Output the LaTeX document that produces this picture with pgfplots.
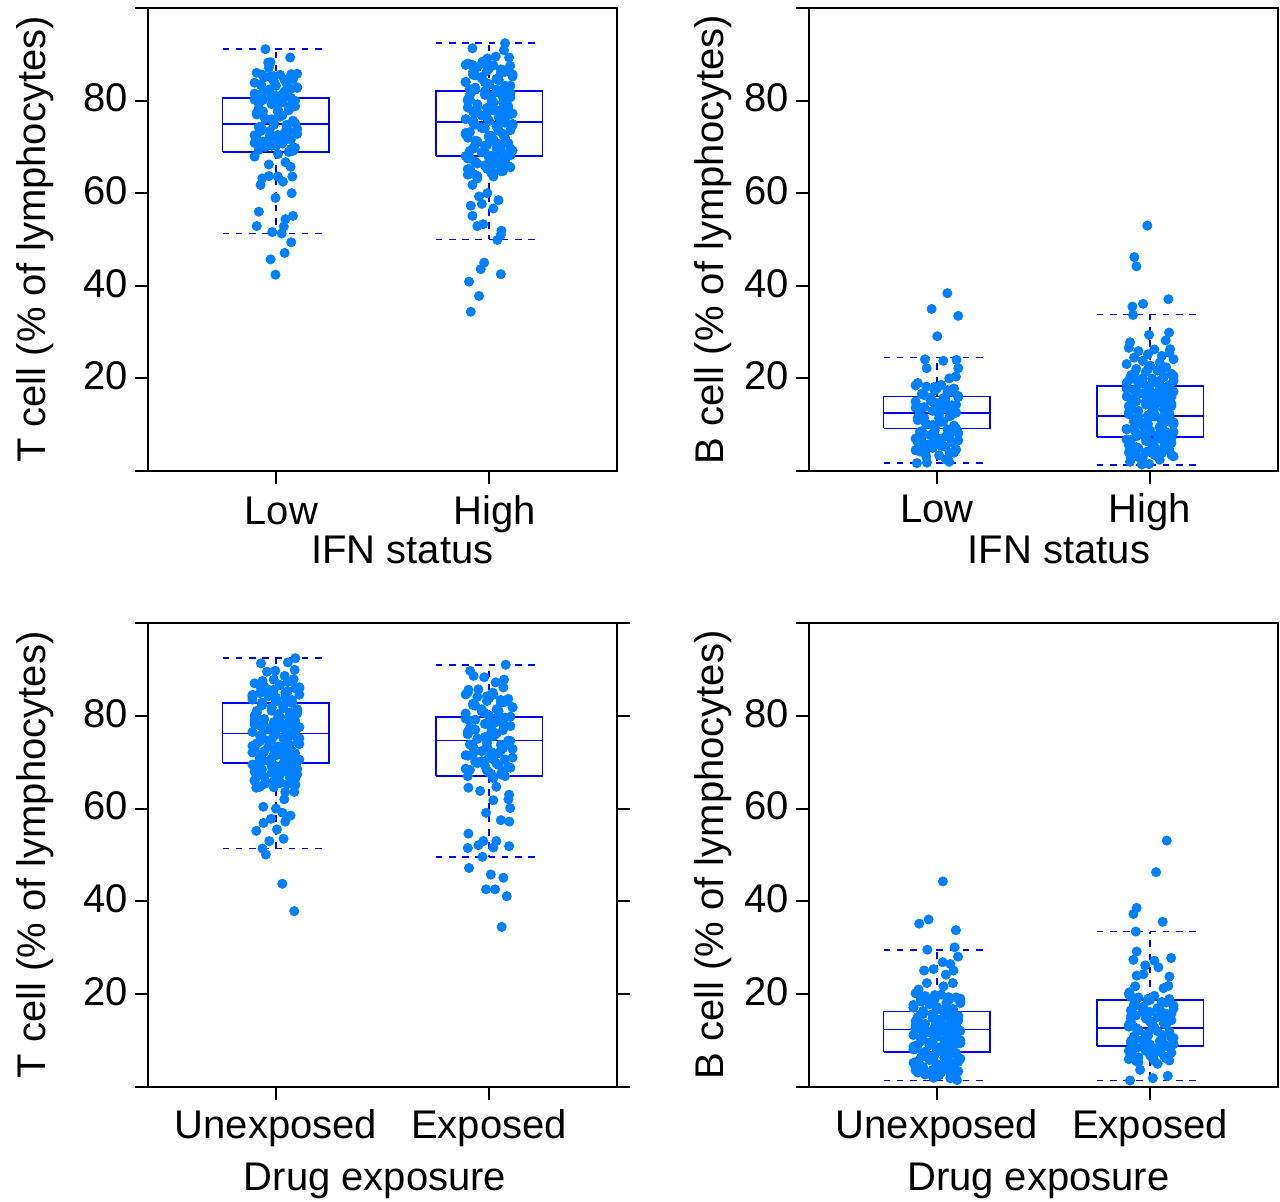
\documentclass[border=0pt]{standalone}
\usepackage{fontspec}
\setmainfont{Liberation Sans}
\usepackage{pgfplots}
\pgfplotsset{compat=1.18}
\definecolor{dotcol}{RGB}{0,128,255}
\definecolor{boxcol}{RGB}{0,0,255}
\pgfplotsset{
  panel/.style={
    scale only axis, width=234.5bp, height=231.5bp,
    xmin=0.4, xmax=2.6, ymin=0, ymax=100,
    xtick={1,2}, ytick={0,20,40,60,80,100},
    yticklabels={{},20,40,60,80,{}},
    tick align=outside, xtick pos=left, ytick pos=left,
    major tick length=6.7bp,
    axis line style={line width=0.95bp, black},
    tick style={line width=0.95bp, black},
    tick label style={font=\fontsize{20bp}{24bp}\selectfont},
    label style={font=\fontsize{20bp}{24bp}\selectfont},
    xticklabel style={anchor=base, yshift=-19bp, inner sep=0pt},
    yticklabel style={anchor=base east, inner sep=0pt, xshift=-3.2bp, yshift=-5.7bp},
    clip=false,
  },
  dots/.style={only marks, mark=*, mark size=2.3bp, color=dotcol, mark options={draw=none, fill=dotcol}},
  boxl/.style={color=boxcol, line width=0.85bp, no marks},
  whisk/.style={color=boxcol, line width=0.85bp, no marks, dash pattern=on 3.3bp off 3.3bp},
}
% #1 left, #2 centre, #3 right, #4 lower cap, #5 Q1, #6 median, #7 Q3, #8 upper cap, #9 cap right end
\newcommand{\bx}[9]{%
 \addplot[boxl] coordinates {(#1,#5) (#3,#5) (#3,#7) (#1,#7) (#1,#5)};
 \addplot[boxl] coordinates {(#1,#6) (#3,#6)};
 \addplot[whisk] coordinates {(#2,#7) (#2,#8)};
 \addplot[whisk] coordinates {(#2,#5) (#2,#4)};
 \addplot[whisk] coordinates {(#1,#8) (#9,#8)};
 \addplot[whisk] coordinates {(#1,#4) (#9,#4)};
}
\begin{document}
\begin{tikzpicture}
\path[use as bounding box] (0,0) rectangle (640bp,601bp);

% ---------------- top left ----------------
\begin{axis}[panel, at={(74bp,365.5bp)}, anchor=south west,
  xticklabels={Low,High}, xticklabel style={xshift=2.7bp, yshift=-1.2bp},
  xlabel={IFN status}, xlabel style={at={(axis description cs:0.5426,-0.199)}, anchor=base},
  ylabel={T cell (\% of lymphocytes)}, ylabel style={at={(axis description cs:-0.2196,0.5)}, anchor=base}]
\addplot[dots] coordinates {
(0.91,86.0)(1.02,85.55)(0.95,85.1)(1.08,84.65)(0.99,84.2)(1.05,83.75)(0.93,83.3)(1.10,82.85)(0.97,82.4)(1.04,81.95)
(0.90,81.5)(1.00,81.05)(1.07,80.6)(0.94,80.15)(1.03,79.7)(0.98,79.25)(1.09,78.8)(0.92,78.35)(1.06,77.9)(1.01,77.45)
(0.91,77.0)(1.02,76.55)(0.95,76.1)(1.08,75.65)(0.99,75.2)(1.05,74.75)(0.93,74.3)(1.10,73.85)(0.97,73.4)(1.04,72.95)
(0.90,72.5)(1.00,72.05)(1.07,71.6)(0.94,71.15)(1.03,70.7)(0.98,70.25)(1.09,69.8)(0.92,69.35)(1.06,68.9)(1.01,68.45)
(1.10,85.8)(0.97,85.15)(1.04,84.5)(0.90,83.85)(1.00,83.2)(1.07,82.55)(0.94,81.9)(1.03,81.25)(0.98,80.6)(1.09,79.95)
(0.92,79.3)(1.06,78.65)(1.01,78.0)(0.91,77.35)(1.02,76.7)(0.95,76.05)(1.08,75.4)(0.99,74.75)(1.05,74.1)(0.93,73.45)
(1.10,72.8)(0.97,72.15)(1.04,71.5)(0.90,70.85)(1.00,70.2)(1.07,69.55)
(0.99,85.3)(1.05,84.45)(0.93,83.6)(1.10,82.75)(0.97,81.9)(1.04,81.05)(0.90,80.2)(1.00,79.35)(1.07,78.5)(0.94,77.65)
(1.03,76.8)(0.98,75.95)(1.09,75.1)(0.92,74.25)(1.06,73.4)(1.01,72.55)(0.91,71.7)(1.02,70.85)(0.95,70.0)(1.08,69.15)
(0.951,91.1)(1.067,89.3)(0.964,88.2)(0.975,88.3)(0.967,87.1)(0.936,85.6)(1.072,85.7)(0.933,81.4)(0.90,67.9)(0.967,66.2)
(1.045,66.7)(1.069,65.7)(0.936,63.2)(0.967,63.7)(0.928,61.8)(1.009,63.6)(1.033,62.5)(1.077,63.6)(0.998,59.0)(1.074,60.0)
(0.92,56.0)(1.08,55.1)(1.045,54.4)(0.91,52.9)(1.037,52.8)(0.983,51.6)(1.027,51.3)(1.072,49.4)(0.975,45.7)(1.041,47.1)
(0.998,42.4)
};
\addplot[dots] coordinates {
(1.90,88.0)(2.02,87.6)(1.945,87.2)(2.09,86.8)(1.99,86.4)(2.055,86.0)(1.925,85.6)(2.11,85.2)(1.965,84.8)(2.045,84.4)
(1.89,84.0)(2.00,83.6)(2.075,83.2)(1.935,82.8)(2.035,82.4)(1.98,82.0)(2.10,81.6)(1.91,81.2)(2.065,80.8)(2.01,80.4)
(1.90,80.0)(2.02,79.6)(1.945,79.2)(2.09,78.8)(1.99,78.4)(2.055,78.0)(1.925,77.6)(2.11,77.2)(1.965,76.8)(2.045,76.4)
(1.89,76.0)(2.00,75.6)(2.075,75.2)(1.935,74.8)(2.035,74.4)(1.98,74.0)(2.10,73.6)(1.91,73.2)(2.065,72.8)(2.01,72.4)
(1.90,72.0)(2.02,71.6)(1.945,71.2)(2.09,70.8)(1.99,70.4)(2.055,70.0)(1.925,69.6)(2.11,69.2)(1.965,68.8)(2.045,68.4)
(1.89,68.0)(2.00,67.6)(2.075,67.2)(1.935,66.8)(2.035,66.4)(1.98,66.0)(2.10,65.6)(1.91,65.2)(2.065,64.8)(2.01,64.4)
(1.90,64.0)(2.02,63.6)(1.945,63.2)
(1.89,87.7)(2.00,86.95)(2.075,86.2)(1.935,85.45)(2.035,84.7)(1.98,83.95)(2.10,83.2)(1.91,82.45)(2.065,81.7)(2.01,80.95)
(1.90,80.2)(2.02,79.45)(1.945,78.7)(2.09,77.95)(1.99,77.2)(2.055,76.45)(1.925,75.7)(2.11,74.95)(1.965,74.2)(2.045,73.45)
(1.89,72.7)(2.00,71.95)(2.075,71.2)(1.935,70.45)(2.035,69.7)(1.98,68.95)(2.10,68.2)(1.91,67.45)(2.065,66.7)(2.01,65.95)
(1.90,65.2)(2.02,64.45)(1.945,63.7)
(1.99,87.3)(2.055,86.75)(1.925,86.2)(2.11,85.65)(1.965,85.1)(2.045,84.55)(1.89,84.0)(2.00,83.45)(2.075,82.9)(1.935,82.35)
(2.035,81.8)(1.98,81.25)(2.10,80.7)(1.91,80.15)(2.065,79.6)(2.01,79.05)(1.90,78.5)(2.02,77.95)(1.945,77.4)(2.09,76.85)
(1.99,76.3)(2.055,75.75)(1.925,75.2)(2.11,74.65)(1.965,74.1)(2.045,73.55)(1.89,73.0)(2.00,72.45)(2.075,71.9)(1.935,71.35)
(2.035,70.8)(1.98,70.25)(2.10,69.7)(1.91,69.15)(2.065,68.6)(2.01,68.05)(1.90,67.5)(2.02,66.95)(1.945,66.4)(2.09,65.85)
(1.99,65.3)(2.055,64.75)(1.925,64.2)
(2.075,92.4)(1.922,91.3)(2.070,90.9)(2.094,89.3)(2.099,87.5)(1.922,87.7)(1.969,88.4)(1.992,89.1)(2.031,89.5)(1.922,61.8)
(1.992,60.0)(1.953,59.3)(2.044,58.5)(1.914,57.3)(1.966,57.7)(2.020,56.7)(1.922,55.1)(1.945,52.9)(1.972,53.3)(2.058,51.9)
(2.055,51.0)(2.039,49.9)(1.977,45.0)(1.961,43.6)(2.055,42.5)(1.906,40.9)(1.953,37.8)(1.914,34.4)
};
\bx{0.75}{1}{1.25}{51.3}{68.9}{75.0}{80.6}{91.1}{1.23}
\bx{1.75}{2}{2.25}{50.0}{68.0}{75.4}{82.1}{92.4}{2.23}
\end{axis}

% ---------------- top right ----------------
\begin{axis}[panel, at={(404.5bp,365.5bp)}, anchor=south west,
  xticklabels={Low,High},
  xlabel={IFN status}, xlabel style={at={(axis description cs:0.533,-0.2)}, anchor=base},
  ylabel={B cell (\% of lymphocytes)}, ylabel style={at={(axis description cs:-0.183,0.5)}, anchor=base}]
\addplot[dots] coordinates {
(0.91,19.0)(1.02,18.6)(0.95,18.2)(1.08,17.8)(0.99,17.4)(1.05,17.0)(0.93,16.6)(1.10,16.2)(0.97,15.8)(1.04,15.4)
(0.90,15.0)(1.00,14.6)(1.07,14.2)(0.94,13.8)(1.03,13.4)(0.98,13.0)(1.09,12.6)(0.92,12.2)(1.06,11.8)(1.01,11.4)
(0.91,11.0)(1.02,10.6)(0.95,10.2)(1.08,9.8)(0.99,9.4)(1.05,9.0)(0.93,8.6)(1.10,8.2)(0.97,7.8)(1.04,7.4)
(0.90,7.0)(1.00,6.6)(1.07,6.2)(0.94,5.8)(1.03,5.4)(0.98,5.0)(1.09,4.6)(0.92,4.2)(1.06,3.8)(1.01,3.4)
(0.90,18.5)(1.00,17.8)(1.07,17.1)(0.94,16.4)(1.03,15.7)(0.98,15.0)(1.09,14.3)(0.92,13.6)(1.06,12.9)(1.01,12.2)
(0.91,11.5)(1.02,10.8)(0.95,10.1)(1.08,9.4)(0.99,8.7)(1.05,8.0)(0.93,7.3)(1.10,6.6)(0.97,5.9)(1.04,5.2)(0.90,4.5)
(0.99,18.2)(1.05,17.45)(0.93,16.7)(1.10,15.95)(0.97,15.2)(1.04,14.45)(0.90,13.7)(1.00,12.95)(1.07,12.2)(0.94,11.45)
(1.03,10.7)(0.98,9.95)(1.09,9.2)(0.92,8.45)(1.06,7.7)(1.01,6.95)(0.91,6.2)(1.02,5.45)(0.95,4.7)(1.08,3.95)
(1.049,38.4)(0.975,35.0)(1.100,33.5)(1.002,29.1)(0.944,24.1)(1.030,23.8)(1.092,24.0)(0.952,22.2)(1.100,22.2)(1.058,20.0)
(1.089,20.4)(0.906,1.7)(0.953,1.8)(1.058,2.0)(1.042,2.5)(0.950,3.1)(1.069,4.0)
};
\addplot[dots] coordinates {
(1.90,26.6)(2.02,26.25)(1.945,25.9)(2.09,25.55)(1.99,25.2)(2.055,24.85)(1.925,24.5)(2.11,24.15)(1.965,23.8)(2.045,23.45)
(1.89,23.1)(2.00,22.75)(2.075,22.4)(1.935,22.05)(2.035,21.7)(1.98,21.35)(2.10,21.0)(1.91,20.65)(2.065,20.3)(2.01,19.95)
(1.90,19.6)(2.02,19.25)(1.945,18.9)(2.09,18.55)(1.99,18.2)(2.055,17.85)(1.925,17.5)(2.11,17.15)(1.965,16.8)(2.045,16.45)
(1.89,16.1)(2.00,15.75)(2.075,15.4)(1.935,15.05)(2.035,14.7)(1.98,14.35)(2.10,14.0)(1.91,13.65)(2.065,13.3)(2.01,12.95)
(1.90,12.6)(2.02,12.25)(1.945,11.9)(2.09,11.55)(1.99,11.2)(2.055,10.85)(1.925,10.5)(2.11,10.15)(1.965,9.8)(2.045,9.45)
(1.89,9.1)(2.00,8.75)(2.075,8.4)(1.935,8.05)(2.035,7.7)(1.98,7.35)(2.10,7.0)(1.91,6.65)(2.065,6.3)(2.01,5.95)
(1.90,5.6)(2.02,5.25)(1.945,4.9)(2.09,4.55)(1.99,4.2)(2.055,3.85)(1.925,3.5)(2.11,3.15)(1.965,2.8)(2.045,2.45)
(1.925,20.0)(2.11,19.45)(1.965,18.9)(2.045,18.35)(1.89,17.8)(2.00,17.25)(2.075,16.7)(1.935,16.15)(2.035,15.6)(1.98,15.05)
(2.10,14.5)(1.91,13.95)(2.065,13.4)(2.01,12.85)(1.90,12.3)(2.02,11.75)(1.945,11.2)(2.09,10.65)(1.99,10.1)(2.055,9.55)
(1.925,9.0)(2.11,8.45)(1.965,7.9)(2.045,7.35)(1.89,6.8)(2.00,6.25)(2.075,5.7)(1.935,5.15)(2.035,4.6)(1.98,4.05)
(2.10,3.5)(1.91,2.95)
(1.99,22.0)(2.055,21.5)(1.925,21.0)(2.11,20.5)(1.965,20.0)(2.045,19.5)(1.89,19.0)(2.00,18.5)(2.075,18.0)(1.935,17.5)
(2.035,17.0)(1.98,16.5)(2.10,16.0)(1.91,15.5)(2.065,15.0)(2.01,14.5)(1.90,14.0)(2.02,13.5)(1.945,13.0)(2.09,12.5)
(1.99,12.0)(2.055,11.5)(1.925,11.0)(2.11,10.5)(1.965,10.0)(2.045,9.5)(1.89,9.0)(2.00,8.5)(2.075,8.0)(1.935,7.5)
(2.035,7.0)(1.98,6.5)(2.10,6.0)(1.91,5.5)(2.065,5.0)(2.01,4.5)(1.90,4.0)(2.02,3.5)(1.945,3.0)
(1.987,53.0)(1.926,46.2)(1.936,44.2)(1.917,35.5)(1.967,36.1)(2.086,37.1)(1.920,33.7)(1.995,29.4)(2.089,29.9)(1.906,27.8)
(2.073,28.2)(2.094,26.3)(1.906,2.0)(1.961,1.4)(1.995,1.5)
};
\bx{0.75}{1}{1.25}{1.7}{9.2}{12.5}{16.1}{24.5}{1.23}
\bx{1.75}{2}{2.25}{1.3}{7.3}{11.9}{18.3}{33.8}{2.23}
\end{axis}

% ---------------- bottom left ----------------
\begin{axis}[panel, height=232bp, at={(74bp,57.5bp)}, anchor=south west, ytick pos=both,
  xticklabels={Unexposed,Exposed},
  xlabel={Drug exposure}, xlabel style={at={(axis description cs:0.484,-0.222)}, anchor=base},
  ylabel={T cell (\% of lymphocytes)}, ylabel style={at={(axis description cs:-0.2196,0.5)}, anchor=base}]
\addplot[dots] coordinates {
(0.90,87.0)(1.02,86.65)(0.945,86.3)(1.09,85.95)(0.99,85.6)(1.055,85.25)(0.925,84.9)(1.11,84.55)(0.965,84.2)(1.045,83.85)
(0.89,83.5)(1.00,83.15)(1.075,82.8)(0.935,82.45)(1.035,82.1)(0.98,81.75)(1.10,81.4)(0.91,81.05)(1.065,80.7)(1.01,80.35)
(0.90,80.0)(1.02,79.65)(0.945,79.3)(1.09,78.95)(0.99,78.6)(1.055,78.25)(0.925,77.9)(1.11,77.55)(0.965,77.2)(1.045,76.85)
(0.89,76.5)(1.00,76.15)(1.075,75.8)(0.935,75.45)(1.035,75.1)(0.98,74.75)(1.10,74.4)(0.91,74.05)(1.065,73.7)(1.01,73.35)
(0.90,73.0)(1.02,72.65)(0.945,72.3)(1.09,71.95)(0.99,71.6)(1.055,71.25)(0.925,70.9)(1.11,70.55)(0.965,70.2)(1.045,69.85)
(0.89,69.5)(1.00,69.15)(1.075,68.8)(0.935,68.45)(1.035,68.1)(0.98,67.75)(1.10,67.4)(0.91,67.05)(1.065,66.7)(1.01,66.35)
(0.90,66.0)(1.02,65.65)(0.945,65.3)(1.09,64.95)(0.99,64.6)
(0.925,86.5)(1.11,85.9)(0.965,85.3)(1.045,84.7)(0.89,84.1)(1.00,83.5)(1.075,82.9)(0.935,82.3)(1.035,81.7)(0.98,81.1)
(1.10,80.5)(0.91,79.9)(1.065,79.3)(1.01,78.7)(0.90,78.1)(1.02,77.5)(0.945,76.9)(1.09,76.3)(0.99,75.7)(1.055,75.1)
(0.925,74.5)(1.11,73.9)(0.965,73.3)(1.045,72.7)(0.89,72.1)(1.00,71.5)(1.075,70.9)(0.935,70.3)(1.035,69.7)(0.98,69.1)
(1.10,68.5)(0.91,67.9)(1.065,67.3)(1.01,66.7)(0.90,66.1)(1.02,65.5)
(0.99,87.8)(1.055,87.25)(0.925,86.7)(1.11,86.15)(0.965,85.6)(1.045,85.05)(0.89,84.5)(1.00,83.95)(1.075,83.4)(0.935,82.85)
(1.035,82.3)(0.98,81.75)(1.10,81.2)(0.91,80.65)(1.065,80.1)(1.01,79.55)(0.90,79.0)(1.02,78.45)(0.945,77.9)(1.09,77.35)
(0.99,76.8)(1.055,76.25)(0.925,75.7)(1.11,75.15)(0.965,74.6)(1.045,74.05)(0.89,73.5)(1.00,72.95)(1.075,72.4)(0.935,71.85)
(1.035,71.3)(0.98,70.75)(1.10,70.2)(0.91,69.65)(1.065,69.1)(1.01,68.55)(0.90,68.0)(1.02,67.45)(0.945,66.9)(1.09,66.35)
(0.99,65.8)(1.055,65.25)(0.925,64.7)
(1.091,92.4)(0.930,91.3)(1.056,91.5)(0.958,89.5)(0.997,89.7)(1.088,89.9)(0.937,87.5)(1.041,88.6)(1.083,87.9)(0.908,64.5)
(0.958,65.6)(1.091,65.2)(1.044,63.6)(1.086,63.6)(1.039,62.0)(0.941,60.4)(1.0,60.0)(1.031,59.1)(1.069,58.5)(0.977,57.8)
(0.942,56.9)(1.044,57.2)(1.005,55.5)(0.908,55.2)(0.969,53.0)(1.036,53.5)(0.937,51.4)(0.953,50.1)(1.030,43.8)(1.086,37.9)
};
\addplot[dots] coordinates {
(1.90,85.0)(2.02,84.55)(1.945,84.1)(2.09,83.65)(1.99,83.2)(2.055,82.75)(1.925,82.3)(2.11,81.85)(1.965,81.4)(2.045,80.95)
(1.89,80.5)(2.00,80.05)(2.075,79.6)(1.935,79.15)(2.035,78.7)(1.98,78.25)(2.10,77.8)(1.91,77.35)(2.065,76.9)(2.01,76.45)
(1.90,76.0)(2.02,75.55)(1.945,75.1)(2.09,74.65)(1.99,74.2)(2.055,73.75)(1.925,73.3)(2.11,72.85)(1.965,72.4)(2.045,71.95)
(1.89,71.5)(2.00,71.05)(2.075,70.6)(1.935,70.15)(2.035,69.7)(1.98,69.25)(2.10,68.8)(1.91,68.35)(2.065,67.9)(2.01,67.45)
(1.90,67.0)(2.02,66.55)
(1.89,84.6)(2.00,83.8)(2.075,83.0)(1.935,82.2)(2.035,81.4)(1.98,80.6)(2.10,79.8)(1.91,79.0)(2.065,78.2)(2.01,77.4)
(1.90,76.6)(2.02,75.8)(1.945,75.0)(2.09,74.2)(1.99,73.4)(2.055,72.6)(1.925,71.8)(2.11,71.0)(1.965,70.2)(2.045,69.4)
(1.89,68.6)(2.00,67.8)(2.075,67.0)
(1.99,84.2)(2.055,83.4)(1.925,82.6)(2.11,81.8)(1.965,81.0)(2.045,80.2)(1.89,79.4)(2.00,78.6)(2.075,77.8)(1.935,77.0)
(2.035,76.2)(1.98,75.4)(2.10,74.6)(1.91,73.8)(2.065,73.0)(2.01,72.2)(1.90,71.4)(2.02,70.6)(1.945,69.8)(2.09,69.0)
(1.99,68.2)(2.055,67.4)
(2.078,91.0)(1.911,89.7)(1.927,88.6)(1.977,88.3)(2.031,87.2)(2.070,87.8)(1.903,85.6)(1.950,85.7)(2.017,85.0)(2.067,86.1)
(1.903,64.5)(1.958,63.8)(2.034,64.7)(2.094,63.0)(2.020,61.8)(2.091,62.0)(2.099,60.1)(1.986,59.1)(2.055,57.5)(2.095,57.2)
(1.903,54.6)(1.900,51.5)(1.950,52.1)(1.973,53.0)(2.034,53.0)(2.020,51.6)(2.094,51.9)(1.969,49.6)(1.906,47.2)(2.008,45.8)
(2.067,45.1)(1.986,42.6)(2.028,42.6)(2.083,41.1)(2.059,34.5)
};
\bx{0.75}{1}{1.25}{51.4}{69.9}{76.2}{82.7}{92.4}{1.23}
\bx{1.75}{2}{2.25}{49.5}{67.0}{74.7}{79.8}{91.0}{2.23}
\end{axis}

% ---------------- bottom right ----------------
\begin{axis}[panel, height=232bp, at={(404.5bp,57.5bp)}, anchor=south west,
  xticklabels={Unexposed,Exposed},
  xlabel={Drug exposure}, xlabel style={at={(axis description cs:0.489,-0.222)}, anchor=base},
  ylabel={B cell (\% of lymphocytes)}, ylabel style={at={(axis description cs:-0.183,0.5)}, anchor=base}]
\addplot[dots] coordinates {
(0.90,20.2)(1.02,19.9)(0.945,19.6)(1.09,19.3)(0.99,19.0)(1.055,18.7)(0.925,18.4)(1.11,18.1)(0.965,17.8)(1.045,17.5)
(0.89,17.2)(1.00,16.9)(1.075,16.6)(0.935,16.3)(1.035,16.0)(0.98,15.7)(1.10,15.4)(0.91,15.1)(1.065,14.8)(1.01,14.5)
(0.90,14.2)(1.02,13.9)(0.945,13.6)(1.09,13.3)(0.99,13.0)(1.055,12.7)(0.925,12.4)(1.11,12.1)(0.965,11.8)(1.045,11.5)
(0.89,11.2)(1.00,10.9)(1.075,10.6)(0.935,10.3)(1.035,10.0)(0.98,9.7)(1.10,9.4)(0.91,9.1)(1.065,8.8)(1.01,8.5)
(0.90,8.2)(1.02,7.9)(0.945,7.6)(1.09,7.3)(0.99,7.0)(1.055,6.7)(0.925,6.4)(1.11,6.1)(0.965,5.8)(1.045,5.5)
(0.89,5.2)(1.00,4.9)(1.075,4.6)(0.935,4.3)(1.035,4.0)(0.98,3.7)(1.10,3.4)(0.91,3.1)(1.065,2.8)(1.01,2.5)
(0.925,19.5)(1.11,19.05)(0.965,18.6)(1.045,18.15)(0.89,17.7)(1.00,17.25)(1.075,16.8)(0.935,16.35)(1.035,15.9)(0.98,15.45)
(1.10,15.0)(0.91,14.55)(1.065,14.1)(1.01,13.65)(0.90,13.2)(1.02,12.75)(0.945,12.3)(1.09,11.85)(0.99,11.4)(1.055,10.95)
(0.925,10.5)(1.11,10.05)(0.965,9.6)(1.045,9.15)(0.89,8.7)(1.00,8.25)(1.075,7.8)(0.935,7.35)(1.035,6.9)(0.98,6.45)
(1.10,6.0)(0.91,5.55)(1.065,5.1)(1.01,4.65)(0.90,4.2)(1.02,3.75)(0.945,3.3)(1.09,2.85)
(0.99,19.8)(1.055,19.35)(0.925,18.9)(1.11,18.45)(0.965,18.0)(1.045,17.55)(0.89,17.1)(1.00,16.65)(1.075,16.2)(0.935,15.75)
(1.035,15.3)(0.98,14.85)(1.10,14.4)(0.91,13.95)(1.065,13.5)(1.01,13.05)(0.90,12.6)(1.02,12.15)(0.945,11.7)(1.09,11.25)
(0.99,10.8)(1.055,10.35)(0.925,9.9)(1.11,9.45)(0.965,9.0)(1.045,8.55)(0.89,8.1)(1.00,7.65)(1.075,7.2)(0.935,6.75)
(1.035,6.3)(0.98,5.85)(1.10,5.4)(0.91,4.95)(1.065,4.5)(1.01,4.05)(0.90,3.6)(1.02,3.15)(0.945,2.7)
(1.028,44.3)(0.917,35.2)(0.961,36.1)(1.089,33.8)(0.955,29.6)(1.083,30.1)(1.099,28.1)(1.027,26.9)(1.063,26.5)(1.078,25.1)
(0.940,25.1)(0.984,25.4)(1.042,24.2)(1.075,22.4)(0.953,22.4)(1.031,21.7)(0.914,21.0)(0.984,2.0)(1.063,1.9)(1.094,1.5)
};
\addplot[dots] coordinates {
(1.90,20.0)(2.02,19.65)(1.945,19.3)(2.09,18.95)(1.99,18.6)(2.055,18.25)(1.925,17.9)(2.11,17.55)(1.965,17.2)(2.045,16.85)
(1.91,16.5)(2.00,16.15)(2.075,15.8)(1.935,15.45)(2.035,15.1)(1.98,14.75)(2.10,14.4)(1.91,14.05)(2.065,13.7)(2.01,13.35)
(1.90,13.0)(2.02,12.65)(1.945,12.3)(2.09,11.95)(1.99,11.6)(2.055,11.25)(1.925,10.9)(2.11,10.55)(1.965,10.2)(2.045,9.85)
(1.91,9.5)(2.00,9.15)(2.075,8.8)(1.935,8.45)(2.035,8.1)(1.98,7.75)(2.10,7.4)(1.91,7.05)(2.065,6.7)(2.01,6.35)
(1.90,6.0)(2.02,5.65)(1.945,5.3)
(1.91,19.4)(2.00,18.8)(2.075,18.2)(1.935,17.6)(2.035,17.0)(1.98,16.4)(2.10,15.8)(1.91,15.2)(2.065,14.6)(2.01,14.0)
(1.90,13.4)(2.02,12.8)(1.945,12.2)(2.09,11.6)(1.99,11.0)(2.055,10.4)(1.925,9.8)(2.11,9.2)(1.965,8.6)(2.045,8.0)
(1.91,7.4)(2.00,6.8)(2.075,6.2)(1.935,5.6)(2.035,5.0)
(1.99,19.0)(2.055,18.3)(1.925,17.6)(2.11,16.9)(1.965,16.2)(2.045,15.5)(1.91,14.8)(2.00,14.1)(2.075,13.4)(1.935,12.7)
(2.035,12.0)(1.98,11.3)(2.10,10.6)(1.91,9.9)(2.065,9.2)(2.01,8.5)(1.90,7.8)(2.02,7.1)(1.945,6.4)(2.09,5.7)
(2.078,53.1)(2.028,46.3)(1.937,38.6)(1.922,37.3)(2.059,35.6)(1.933,33.5)(1.937,29.2)(1.922,27.4)(2.099,27.8)(1.977,26.2)
(2.020,27.2)(2.039,25.8)(1.937,24.0)(1.969,24.3)(2.091,23.8)(1.930,21.7)(1.903,20.4)(2.063,21.3)(2.086,21.8)(1.953,3.7)
(2.083,2.4)(1.906,1.4)(2.013,1.9)
};
\bx{0.75}{1}{1.25}{1.4}{7.5}{12.4}{16.3}{29.6}{1.23}
\bx{1.75}{2}{2.25}{1.4}{8.9}{12.7}{18.8}{33.5}{2.23}
\end{axis}
\end{tikzpicture}
\end{document}
